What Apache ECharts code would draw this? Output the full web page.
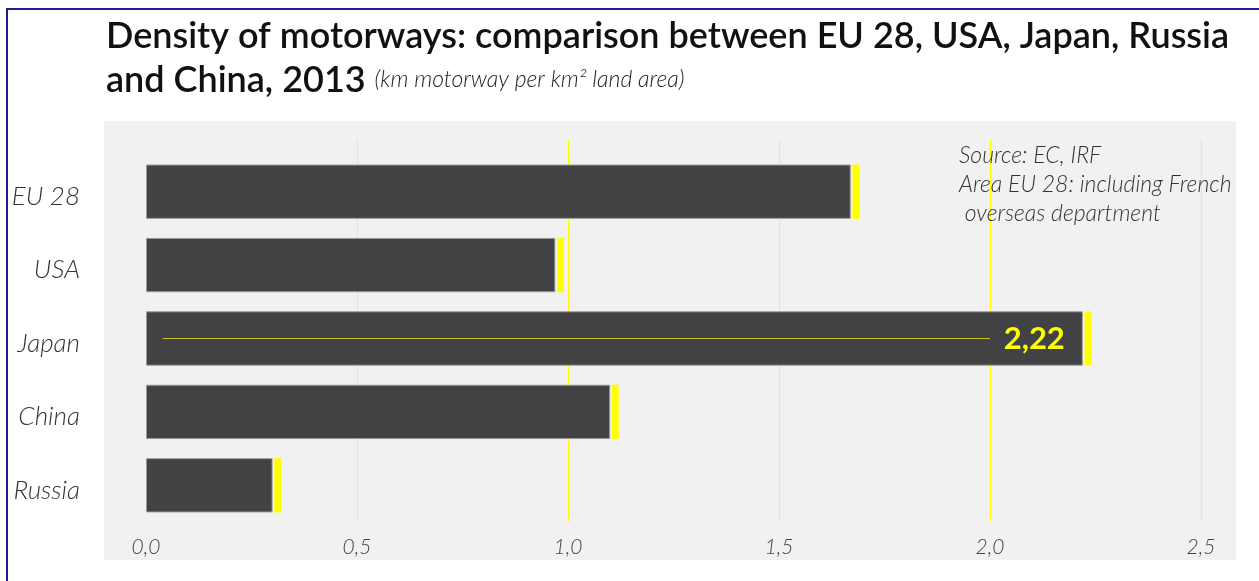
<!DOCTYPE html>
<html><head><meta charset="utf-8">
<script src="https://cdn.jsdelivr.net/npm/echarts@6/dist/echarts.min.js"></script>
<style>html,body{margin:0;padding:0;background:#fff}#c{width:1259px;height:581px}</style>
</head><body><div id="c"></div>
<script>
const categories = ['EU 28', 'USA', 'Japan', 'China', 'Russia'];
const densities = [1.67, 0.97, 2.22, 1.10, 0.30];
const labelledCategory = 'Japan';
const capGap = [0.004, 0.004, 0.004, 0.004, 0.004];
const capSize = [0.016, 0.016, 0.016, 0.016, 0.016];
const tickValues = [0, 0.5, 1.0, 1.5, 2.0, 2.5];
const titleLine1 = 'Density of motorways: comparison between EU 28, USA, Japan, Russia';
const titleLine2 = 'and China, 2013';
const unitNote = '(km motorway per km² land area)';
const sourceNotes = ['Source: EC, IRF', 'Area EU 28: including French', ' overseas department'];
const japanLine = [0.04, 2.0];

const chart = echarts.init(document.getElementById('c'));
const fmt = v => v.toFixed(1).replace('.', ',');
const FONT = 'Lato';

chart.setOption({
  animation: false,
  backgroundColor: '#ffffff',
  graphic: [
    { type: 'rect', z: -100, silent: true, shape: { x: 104, y: 121, width: 1132, height: 439 }, style: { fill: '#f0f1f0' } },
    { type: 'rect', z: 100, silent: true, shape: { x: 7, y: 9, width: 1300, height: 620 }, style: { fill: 'none', stroke: '#1c1c8a', lineWidth: 2 } }
  ],
  title: [
    {
      left: 101, top: 9,
      text: titleLine1 + '\n' + titleLine2 + ' {s|' + unitNote + '}',
      textStyle: {
        fontFamily: FONT, fontSize: 36, fontWeight: 600, color: '#111', lineHeight: 44,
        rich: { s: { fontFamily: FONT, fontSize: 23, fontStyle: 'italic', fontWeight: 300, color: '#222', lineHeight: 44 } }
      }
    },
    {
      left: 954, top: 136,
      text: sourceNotes.join('\n'),
      textStyle: { fontFamily: FONT, fontSize: 23, fontStyle: 'italic', fontWeight: 300, color: '#333', lineHeight: 29 }
    }
  ],
  grid: [
    { left: 146, right: 58, top: 155, bottom: 59 },
    { left: 146, right: 58, top: 139, bottom: 59 }
  ],
  xAxis: [
    {
      gridIndex: 0, type: 'value', min: 0, max: 2.5, interval: 0.5,
      axisLine: { show: false }, axisTick: { show: false }, splitLine: { show: false },
      axisLabel: { formatter: fmt, fontFamily: FONT, fontStyle: 'italic', fontWeight: 300, fontSize: 21, color: '#444', margin: 15 }
    },
    {
      gridIndex: 1, type: 'value', min: 0, max: 2.5, interval: 0.5,
      axisLine: { show: false }, axisTick: { show: false }, axisLabel: { show: false },
      splitLine: { show: true, showMinLine: false, lineStyle: { color: '#ffff00', width: 1 } }
    }
  ],
  yAxis: [
    {
      gridIndex: 0, type: 'category', data: categories, inverse: true,
      axisLine: { show: false }, axisTick: { show: false },
      axisLabel: {
        margin: 66, formatter: v => '{a|' + v + '}',
        rich: { a: { fontFamily: FONT, fontStyle: 'italic', fontWeight: 300, fontSize: 26, color: '#333', padding: [10, 0, 0, 0] } }
      }
    },
    { gridIndex: 1, type: 'category', data: categories, inverse: true, show: false }
  ],
  series: [
    {
      type: 'bar', stack: 's', xAxisIndex: 0, yAxisIndex: 0, barCategoryGap: '26%',
      itemStyle: { color: '#424143', borderColor: '#9a9a9a', borderWidth: 1 },
      data: densities.map((v, i) => categories[i] === labelledCategory ? {
        value: v,
        label: { show: true, position: 'insideRight', distance: 18, formatter: p => p.value.toFixed(2).replace('.', ','),
                 fontFamily: FONT, fontWeight: 'bold', fontSize: 31, color: '#ffff00' }
      } : v),
      markLine: {
        silent: true, symbol: 'none', label: { show: false },
        lineStyle: { color: '#c4c41e', width: 1, type: 'solid' },
        data: [[{ coord: [japanLine[0], labelledCategory] }, { coord: [japanLine[1], labelledCategory] }]]
      }
    },
    {
      type: 'bar', stack: 's', xAxisIndex: 0, yAxisIndex: 0,
      itemStyle: { color: 'rgba(0,0,0,0)' }, data: capGap
    },
    {
      type: 'bar', stack: 's', xAxisIndex: 0, yAxisIndex: 0,
      itemStyle: { color: '#ffff00' }, data: capSize
    }
  ]
});
</script></body></html>
